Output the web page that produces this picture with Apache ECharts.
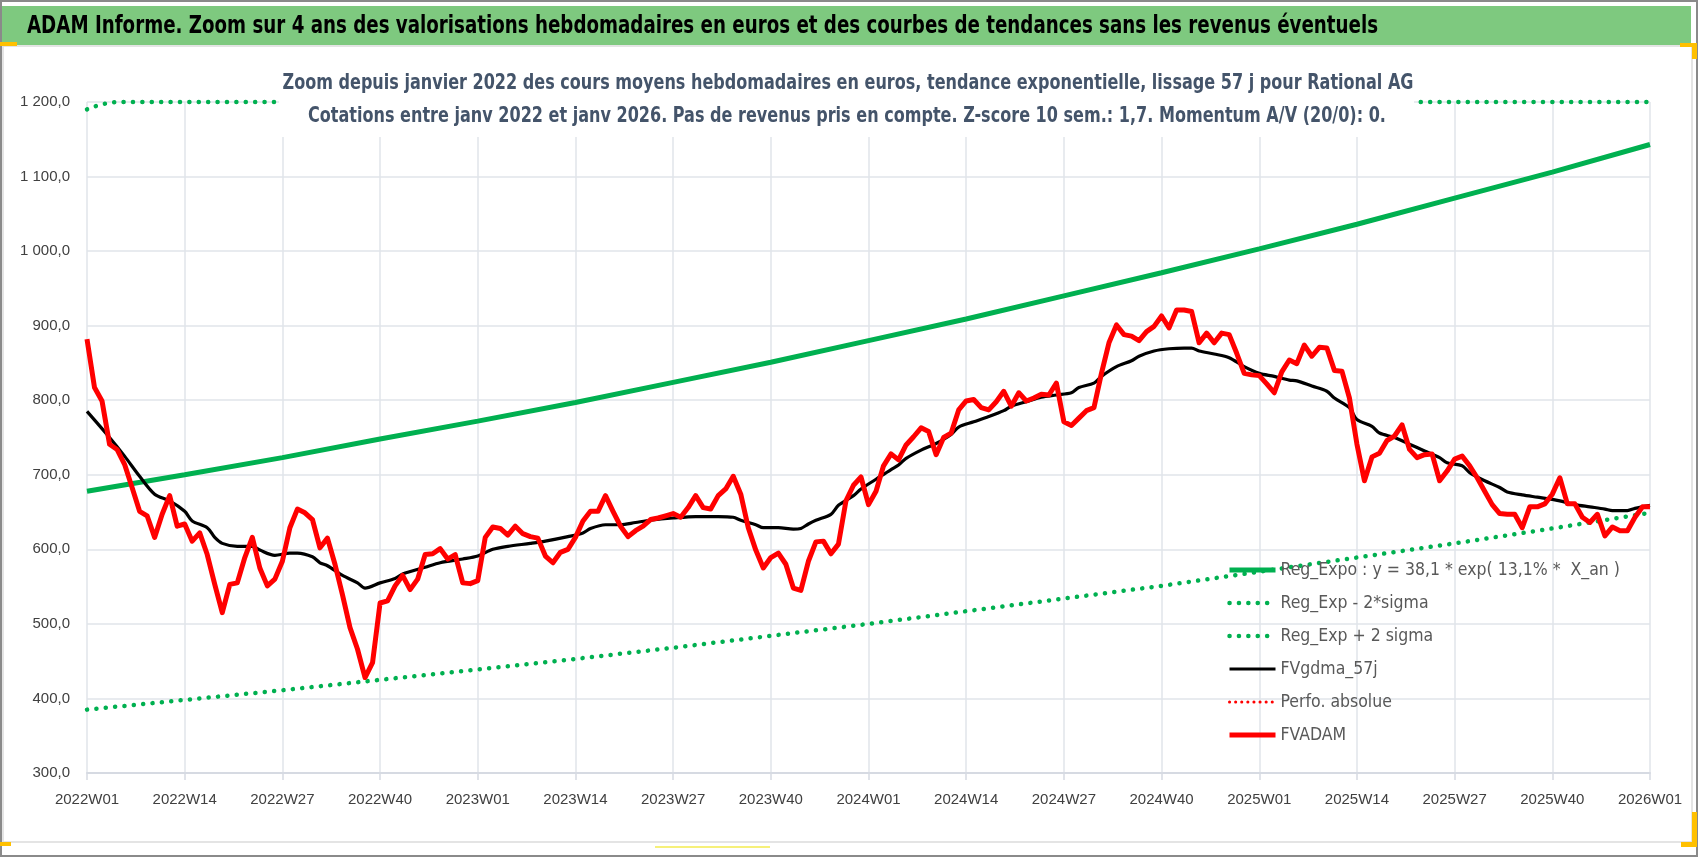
<!DOCTYPE html>
<html lang="fr">
<head>
<meta charset="UTF-8">
<title>ADAM Informe - Rational AG</title>
<script src="https://cdn.jsdelivr.net/npm/echarts@6/dist/echarts.min.js"></script>
<style>
  html, body { margin: 0; padding: 0; background: #fff; }
  #chart { width: 1698px; height: 857px; }
</style>
</head>
<body>
<div id="chart"></div>
<script>
// x ticks every 13 weeks, week 0 = 2022W01
var xTickLabels = ['2022W01','2022W14','2022W27','2022W40','2023W01','2023W14','2023W27','2023W40',
  '2024W01','2024W14','2024W27','2024W40','2025W01','2025W14','2025W27','2025W40','2026W01'];
var yTickLabels = ['300,0','400,0','500,0','600,0','700,0','800,0','900,0','1 000,0','1 100,0','1 200,0'];

// trend curves, read at the tick weeks
var trendWeeks = [0,13,26,39,52,65,78,91,104,117,130,143,156,169,182,195,208];
var regExpo    = [678,700,723,748,772,797,824,851,880,909,940,971,1003,1036,1071,1106,1143];
var regExpLow  = [385,398,411,425,439,453,468,484,500,517,534,551,570,589,608,628,649];
// upper band is cut at the top of the axis
var highWeeks  = [0,1,2,3,4,208];
var regExpHigh = [1190,1194,1197,1199,1200,1200];

// moving average 57 j
var gdmaWeeks  = [0,3,5,7,9,11,13,14,16,17,18,20,22,23,25,27,28,30,31,32,34,36,37,39,41,42,45,47,50,52,
  54,56,59,61,64,66,67,69,71,73,75,78,81,84,86,87,89,90,92,94,95,96,97,99,100,102,103,105,107,108,
  109,111,113,115,116,118,120,122,123,125,127,129,131,132,134,135,137,139,140,142,144,146,147,148,150,152,154,156,158,160,
  161,163,165,166,168,169,171,172,174,176,178,180,181,183,184,186,188,189,191,193,195,196,198,200,202,203,205,206,208];
var gdmaValues = [785,750,725,698,674,665,651,638,629,616,608,604,604,599,592,595,595,590,582,578,565,555,548,555,561,567,576,582,587,591,
  600,604,608,611,617,622,628,633,633,636,639,642,644,644,643,639,633,629,629,627,628,634,639,647,659,672,681,694,707,713,
  722,733,742,754,764,771,778,786,792,798,804,807,810,817,823,832,845,853,859,866,869,870,870,866,862,857,845,836,832,827,
  826,819,812,803,790,774,765,756,750,741,732,723,716,712,703,692,683,677,673,670,667,665,660,657,654,652,652,655,659];

// weekly values FVADAM, index = week
var fvadam = [882,817,799,741,734,714,683,651,645,616,647,672,631,634,611,622,593,553,515,553,
  555,589,616,575,551,560,584,629,654,649,640,602,615,580,539,495,466,428,448,528,
  531,551,565,546,560,593,594,601,587,593,555,554,558,616,630,628,619,631,621,617,
  615,591,582,596,600,616,638,651,651,672,651,631,617,625,631,640,642,645,648,643,
  656,672,656,654,672,681,698,674,629,599,575,589,595,580,548,545,584,610,611,594,
  607,665,686,697,660,678,712,728,720,740,751,763,758,727,750,756,787,799,801,790,
  787,798,812,792,810,799,803,808,807,823,771,766,776,786,790,836,877,901,888,886,
  880,892,899,913,897,921,921,919,877,890,877,890,888,863,836,834,833,822,810,838,
  854,849,874,859,871,870,840,839,803,741,692,724,729,746,752,767,734,723,727,728,
  692,705,721,725,712,696,678,660,648,647,647,629,657,657,661,674,696,661,661,643,
  636,647,618,630,625,625,643,657,657];

var mainTitle = 'ADAM Informe. Zoom sur 4 ans des valorisations hebdomadaires en euros et des courbes de tendances sans les revenus éventuels';
var subTitle1 = 'Zoom depuis janvier 2022 des cours moyens hebdomadaires en euros, tendance exponentielle, lissage 57 j pour Rational AG';
var subTitle2 = 'Cotations entre janv 2022 et janv 2026. Pas de revenus pris en compte. Z-score 10 sem.: 1,7. Momentum A/V (20/0): 0.';

var NARROW = "'Liberation Sans Narrow', 'DejaVu Sans Condensed', sans-serif";
var SANS = "'Liberation Sans', Arial, sans-serif";
var GREEN = '#00b050';
var TITLE_FONT = 'bold 25px "DejaVu Sans Condensed", sans-serif';
var SUB_FONT = 'bold 20.5px "DejaVu Sans Condensed", sans-serif';

// squeeze the titles to the width they take in the original (narrow Calibri)
var measureCtx = document.createElement('canvas').getContext('2d');
function fitScale(text, font, width) {
  measureCtx.font = font;
  return width / measureCtx.measureText(text).width;
}
var titleScale = fitScale(mainTitle, TITLE_FONT, 1351);
var subScale = fitScale(subTitle1, SUB_FONT, 1131);

function pairs(xs, ys) {
  return ys.map(function (v, i) { return [xs[i], v]; });
}

var chart = echarts.init(document.getElementById('chart'));

var option = {
  backgroundColor: '#fff',
  animation: false,
  graphic: [
    { type: 'rect', z: 0, shape: { x: 1, y: 1, width: 1696, height: 855 }, style: { fill: null, stroke: '#8a8a8a', lineWidth: 2 } },
    { type: 'rect', z: 0, shape: { x: 2, y: 6, width: 1689, height: 39 }, style: { fill: '#7ec97f' } },
    { type: 'rect', z: 0, shape: { x: 3, y: 46, width: 1689, height: 796 }, style: { fill: null, stroke: '#dcdcdc', lineWidth: 1.5 } },
    { type: 'rect', z: 0, shape: { x: 0, y: 42, width: 17, height: 4 }, style: { fill: '#ffc000' } },
    { type: 'rect', z: 0, shape: { x: 1680, y: 43, width: 17, height: 4 }, style: { fill: '#ffc000' } },
    { type: 'rect', z: 0, shape: { x: 1692, y: 43, width: 5, height: 16 }, style: { fill: '#ffc000' } },
    { type: 'rect', z: 0, shape: { x: 0, y: 842, width: 11, height: 4 }, style: { fill: '#ffc000' } },
    { type: 'rect', z: 0, shape: { x: 655, y: 846, width: 115, height: 2 }, style: { fill: '#f6f07a' } },
    { type: 'rect', z: 0, shape: { x: 1692, y: 812, width: 5, height: 35 }, style: { fill: '#ffc000' } },
    { type: 'rect', z: 0, shape: { x: 1681, y: 842, width: 16, height: 5 }, style: { fill: '#ffc000' } },
    {
      type: 'text', z: 21, x: 27, y: 26, scaleX: titleScale,
      style: { text: mainTitle, font: TITLE_FONT, fill: '#000', textAlign: 'left', textVerticalAlign: 'middle' }
    },
    // white box of the chart title, it hides the plot under it
    { type: 'rect', z: 20, shape: { x: 279, y: 54, width: 1135, height: 83 }, style: { fill: '#fff' } },
    {
      type: 'text', z: 21, x: 848, y: 84, scaleX: subScale,
      style: { text: subTitle1, font: SUB_FONT, fill: '#44546a', textAlign: 'center', textVerticalAlign: 'middle' }
    },
    {
      type: 'text', z: 21, x: 847, y: 117, scaleX: subScale,
      style: { text: subTitle2, font: SUB_FONT, fill: '#44546a', textAlign: 'center', textVerticalAlign: 'middle' }
    }
  ],
  legend: {
    orient: 'vertical',
    left: 1227,
    top: 559,
    padding: 0,
    itemWidth: 46,
    itemHeight: 14,
    itemGap: 11,
    itemStyle: { opacity: 0 },
    lineStyle: { width: 'inherit' },
    textStyle: { fontFamily: NARROW, fontSize: 17.5, color: '#595959', lineHeight: 22 }
  },
  grid: { left: 87, right: 48, top: 102, bottom: 84, containLabel: false },
  xAxis: {
    type: 'value',
    min: 0,
    max: 208,
    interval: 13,
    axisLine: { show: true, lineStyle: { color: '#d6dae2', width: 2 } },
    axisTick: { show: true, length: 7, lineStyle: { color: '#d6dae2', width: 1.5 } },
    axisLabel: {
      margin: 19,
      fontFamily: SANS,
      fontSize: 15,
      color: '#404040',
      formatter: function (v) { return xTickLabels[Math.round(v / 13)] || ''; }
    },
    splitLine: { show: true, lineStyle: { color: '#e1e4ea', width: 1.5 } }
  },
  yAxis: {
    type: 'value',
    min: 300,
    max: 1200,
    interval: 100,
    axisLine: { show: false },
    axisTick: { show: false },
    axisLabel: {
      margin: 17,
      fontFamily: SANS,
      fontSize: 15,
      color: '#404040',
      formatter: function (v) { return yTickLabels[Math.round((v - 300) / 100)]; }
    },
    splitLine: { show: true, lineStyle: { color: '#e1e4ea', width: 1.5 } }
  },
  series: [
    {
      name: 'Reg_Expo : y = 38,1 * exp( 13,1% *  X_an )',
      type: 'line', symbol: 'none', z: 3,
      lineStyle: { color: GREEN, width: 5 }, itemStyle: { color: GREEN },
      data: pairs(trendWeeks, regExpo)
    },
    {
      name: 'Reg_Exp - 2*sigma',
      type: 'line', symbol: 'none', z: 3,
      lineStyle: { color: GREEN, width: 4.5, type: [0.1, 9.3], cap: 'round' }, itemStyle: { color: GREEN },
      data: pairs(trendWeeks, regExpLow)
    },
    {
      name: 'Reg_Exp + 2 sigma',
      type: 'line', symbol: 'none', z: 3, clip: false,
      lineStyle: { color: GREEN, width: 4.5, type: [0.1, 9.3], cap: 'round' }, itemStyle: { color: GREEN },
      data: pairs(highWeeks, regExpHigh)
    },
    {
      name: 'FVgdma_57j',
      type: 'line', symbol: 'none', z: 4, smooth: 0.3,
      lineStyle: { color: '#000', width: 3.2 }, itemStyle: { color: '#000' },
      data: pairs(gdmaWeeks, gdmaValues)
    },
    {
      name: 'Perfo. absolue',
      type: 'line', symbol: 'none', z: 4,
      lineStyle: { color: '#ff0000', width: 3, type: [0.1, 6], cap: 'round' }, itemStyle: { color: '#ff0000' },
      data: []
    },
    {
      name: 'FVADAM',
      type: 'line', symbol: 'none', z: 5,
      lineStyle: { color: '#ff0000', width: 5, join: 'round' }, itemStyle: { color: '#ff0000' },
      data: fvadam.map(function (v, i) { return [i, v]; })
    }
  ]
};

chart.setOption(option);
</script>
</body>
</html>
